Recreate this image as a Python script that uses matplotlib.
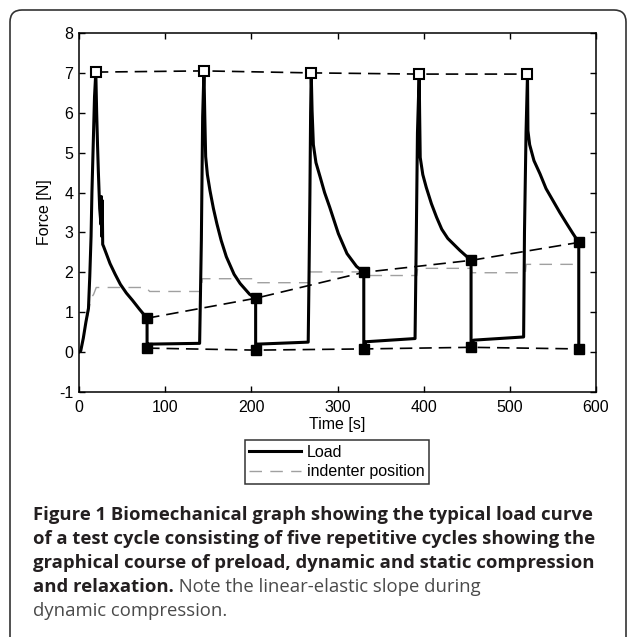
import matplotlib
matplotlib.use('Agg')
import matplotlib.pyplot as plt
import matplotlib.patches as mpatches
import matplotlib.transforms as mtransforms
from matplotlib.lines import Line2D

plt.rcParams['font.family'] = ['Liberation Sans', 'DejaVu Sans']
plt.rcParams['lines.scale_dashes'] = False
plt.rcParams['axes.unicode_minus'] = False

# load curve (time [s], force [N])
load_t = [0, 2, 5, 8, 11, 12.5, 14, 15, 16.5, 18, 19.5,
          20.5, 21.5, 22.5, 24, 25.5, 26, 26.5, 27, 27.5, 28.5, 32, 36, 42, 48, 55, 62, 70, 75, 79,
          79, 80, 140, 141, 142, 143.5, 145,
          146, 147, 149, 152, 156, 160, 165, 171, 180, 187, 198, 205,
          205, 207, 266, 267, 268, 268.8, 269.5,
          270.5, 272, 275, 280, 285, 291, 301, 311, 322, 330.5,
          330.5, 333, 390, 391.5, 392.8, 394.8,
          395.3, 396, 399, 403, 409, 415, 421, 428, 442, 455,
          455, 458, 516, 517, 518.8, 520.5,
          521, 523, 528, 535, 542, 550, 558, 566, 573, 580,
          580]
load_f = [0.0, 0.03, 0.35, 0.75, 1.1, 1.9, 2.9, 4.0, 5.2, 6.4, 7.02,
          6.0, 5.2, 4.5, 3.6, 3.2, 3.9, 2.9, 3.8, 2.7, 2.65, 2.45, 2.22, 1.95, 1.7, 1.48, 1.3, 1.08, 0.95, 0.85,
          0.1, 0.2, 0.22, 1.5, 2.8, 5.9, 7.05,
          5.9, 4.9, 4.45, 4.05, 3.6, 3.22, 2.8, 2.39, 1.95, 1.72, 1.45, 1.35,
          0.05, 0.2, 0.25, 2.0, 4.0, 6.0, 7.0,
          6.05, 5.2, 4.75, 4.38, 4.0, 3.63, 2.97, 2.47, 2.15, 2.0,
          0.08, 0.26, 0.34, 3.0, 5.5, 6.97,
          6.0, 4.88, 4.45, 4.13, 3.72, 3.38, 3.08, 2.85, 2.55, 2.3,
          0.12, 0.3, 0.38, 3.0, 5.5, 6.97,
          5.55, 5.2, 4.8, 4.47, 4.1, 3.8, 3.5, 3.22, 2.98, 2.75,
          0.08]

# marked points of each cycle
peak_t = [19.5, 145, 269.5, 394.8, 520.5]
peak_f = [7.02, 7.05, 7.0, 6.97, 6.97]
relax_t = [79, 205, 330.5, 455, 580]
relax_f = [0.85, 1.35, 2.0, 2.3, 2.75]
low_t = [79, 205, 330.5, 455, 580]
low_f = [0.1, 0.05, 0.08, 0.12, 0.08]

# indenter position (grey dashed)
ind_t = [10, 14, 17, 20, 78, 82, 142, 143, 205, 206, 267, 268, 330, 331,
         392, 393, 455, 456, 518, 519, 580]
ind_f = [0.9, 1.35, 1.45, 1.62, 1.62, 1.52, 1.52, 1.84, 1.84, 1.74, 1.74, 2.01, 2.01, 1.92,
         1.92, 2.1, 2.1, 1.99, 1.99, 2.2, 2.2]

caption_lines = [
    ('Figure 1 Biomechanical graph showing the typical load curve', ''),
    ('of a test cycle consisting of five repetitive cycles showing the', ''),
    ('graphical course of preload, dynamic and static compression', ''),
    ('and relaxation.', ' Note the linear-elastic slope during'),
    ('', 'dynamic compression.'),
]

W, H = 627, 637
fig = plt.figure(figsize=(W / 100, H / 100), dpi=100)
ax = fig.add_axes([79 / W, 1 - 392 / H, (596 - 79) / W, (392 - 33) / H])

dash = (9, 5)
ax.plot(ind_t, ind_f, color='#a0a0a0', lw=1.0, dashes=(9, 6))
ax.plot(peak_t, peak_f, color='black', lw=1.2, dashes=dash)
ax.plot(relax_t, relax_f, color='black', lw=1.2, dashes=dash)
ax.plot(low_t, low_f, color='black', lw=1.2, dashes=dash)
ax.plot(load_t, load_f, color='black', lw=2.2)
ax.plot(peak_t, peak_f, 's', ms=6.5, mfc='white', mec='black', mew=1.5)
ax.plot(relax_t, relax_f, 's', ms=6.5, color='black')
ax.plot(low_t, low_f, 's', ms=6.5, color='black')

ax.set_xlim(0, 600)
ax.set_ylim(-1, 8)
ax.set_xticks(range(0, 601, 100))
ax.set_yticks(range(-1, 9))
ax.tick_params(direction='in', top=True, right=True, length=4, width=1,
               labelsize=11.5, colors='black')
ax.tick_params(axis='x', pad=5.5)
ax.tick_params(axis='y', pad=4)
for s in ax.spines.values():
    s.set_linewidth(1.1)
ax.set_xlabel('Time [s]', fontsize=11.5, labelpad=2)
ax.set_ylabel('Force [N]', fontsize=11.5, labelpad=5)

handles = [Line2D([], [], color='black', lw=2.2),
           Line2D([], [], color='#a0a0a0', lw=1.0, dashes=(9, 6))]
leg = fig.legend(handles, ['Load', 'indenter position'], loc='center',
                 bbox_to_anchor=(337 / W, 1 - 462 / H), fontsize=11.5,
                 frameon=True, fancybox=False, edgecolor='black',
                 handlelength=3.2, handletextpad=0.4, borderpad=0.3,
                 labelspacing=0.3, borderaxespad=0)
leg.get_frame().set_linewidth(1.1)

# caption: bold part then regular part on the same baseline
fig.canvas.draw()
renderer = fig.canvas.get_renderer()
x0 = 33 / W
for i, (bold, reg) in enumerate(caption_lines):
    y = 1 - (520 + 24 * i) / H
    x = x0
    if bold:
        t = fig.text(x, y, bold, fontsize=13.3, family='Open Sans', weight='bold',
                     color='#231f20', va='baseline', ha='left')
        bb = t.get_window_extent(renderer)
        x = bb.x1 / W
    if reg:
        fig.text(x, y, reg, fontsize=13.3, family='Open Sans', weight='normal',
                 color='#4a4a4a', va='baseline', ha='left')

# rounded frame around the figure
frame = mpatches.FancyBboxPatch((10, -30), 616, H - 10 + 30,
                                boxstyle='round,pad=0,rounding_size=12',
                                transform=mtransforms.IdentityTransform(),
                                facecolor='none', edgecolor='#333333', lw=1.2)
fig.patches.append(frame)

fig.savefig('out.png', dpi=100)
